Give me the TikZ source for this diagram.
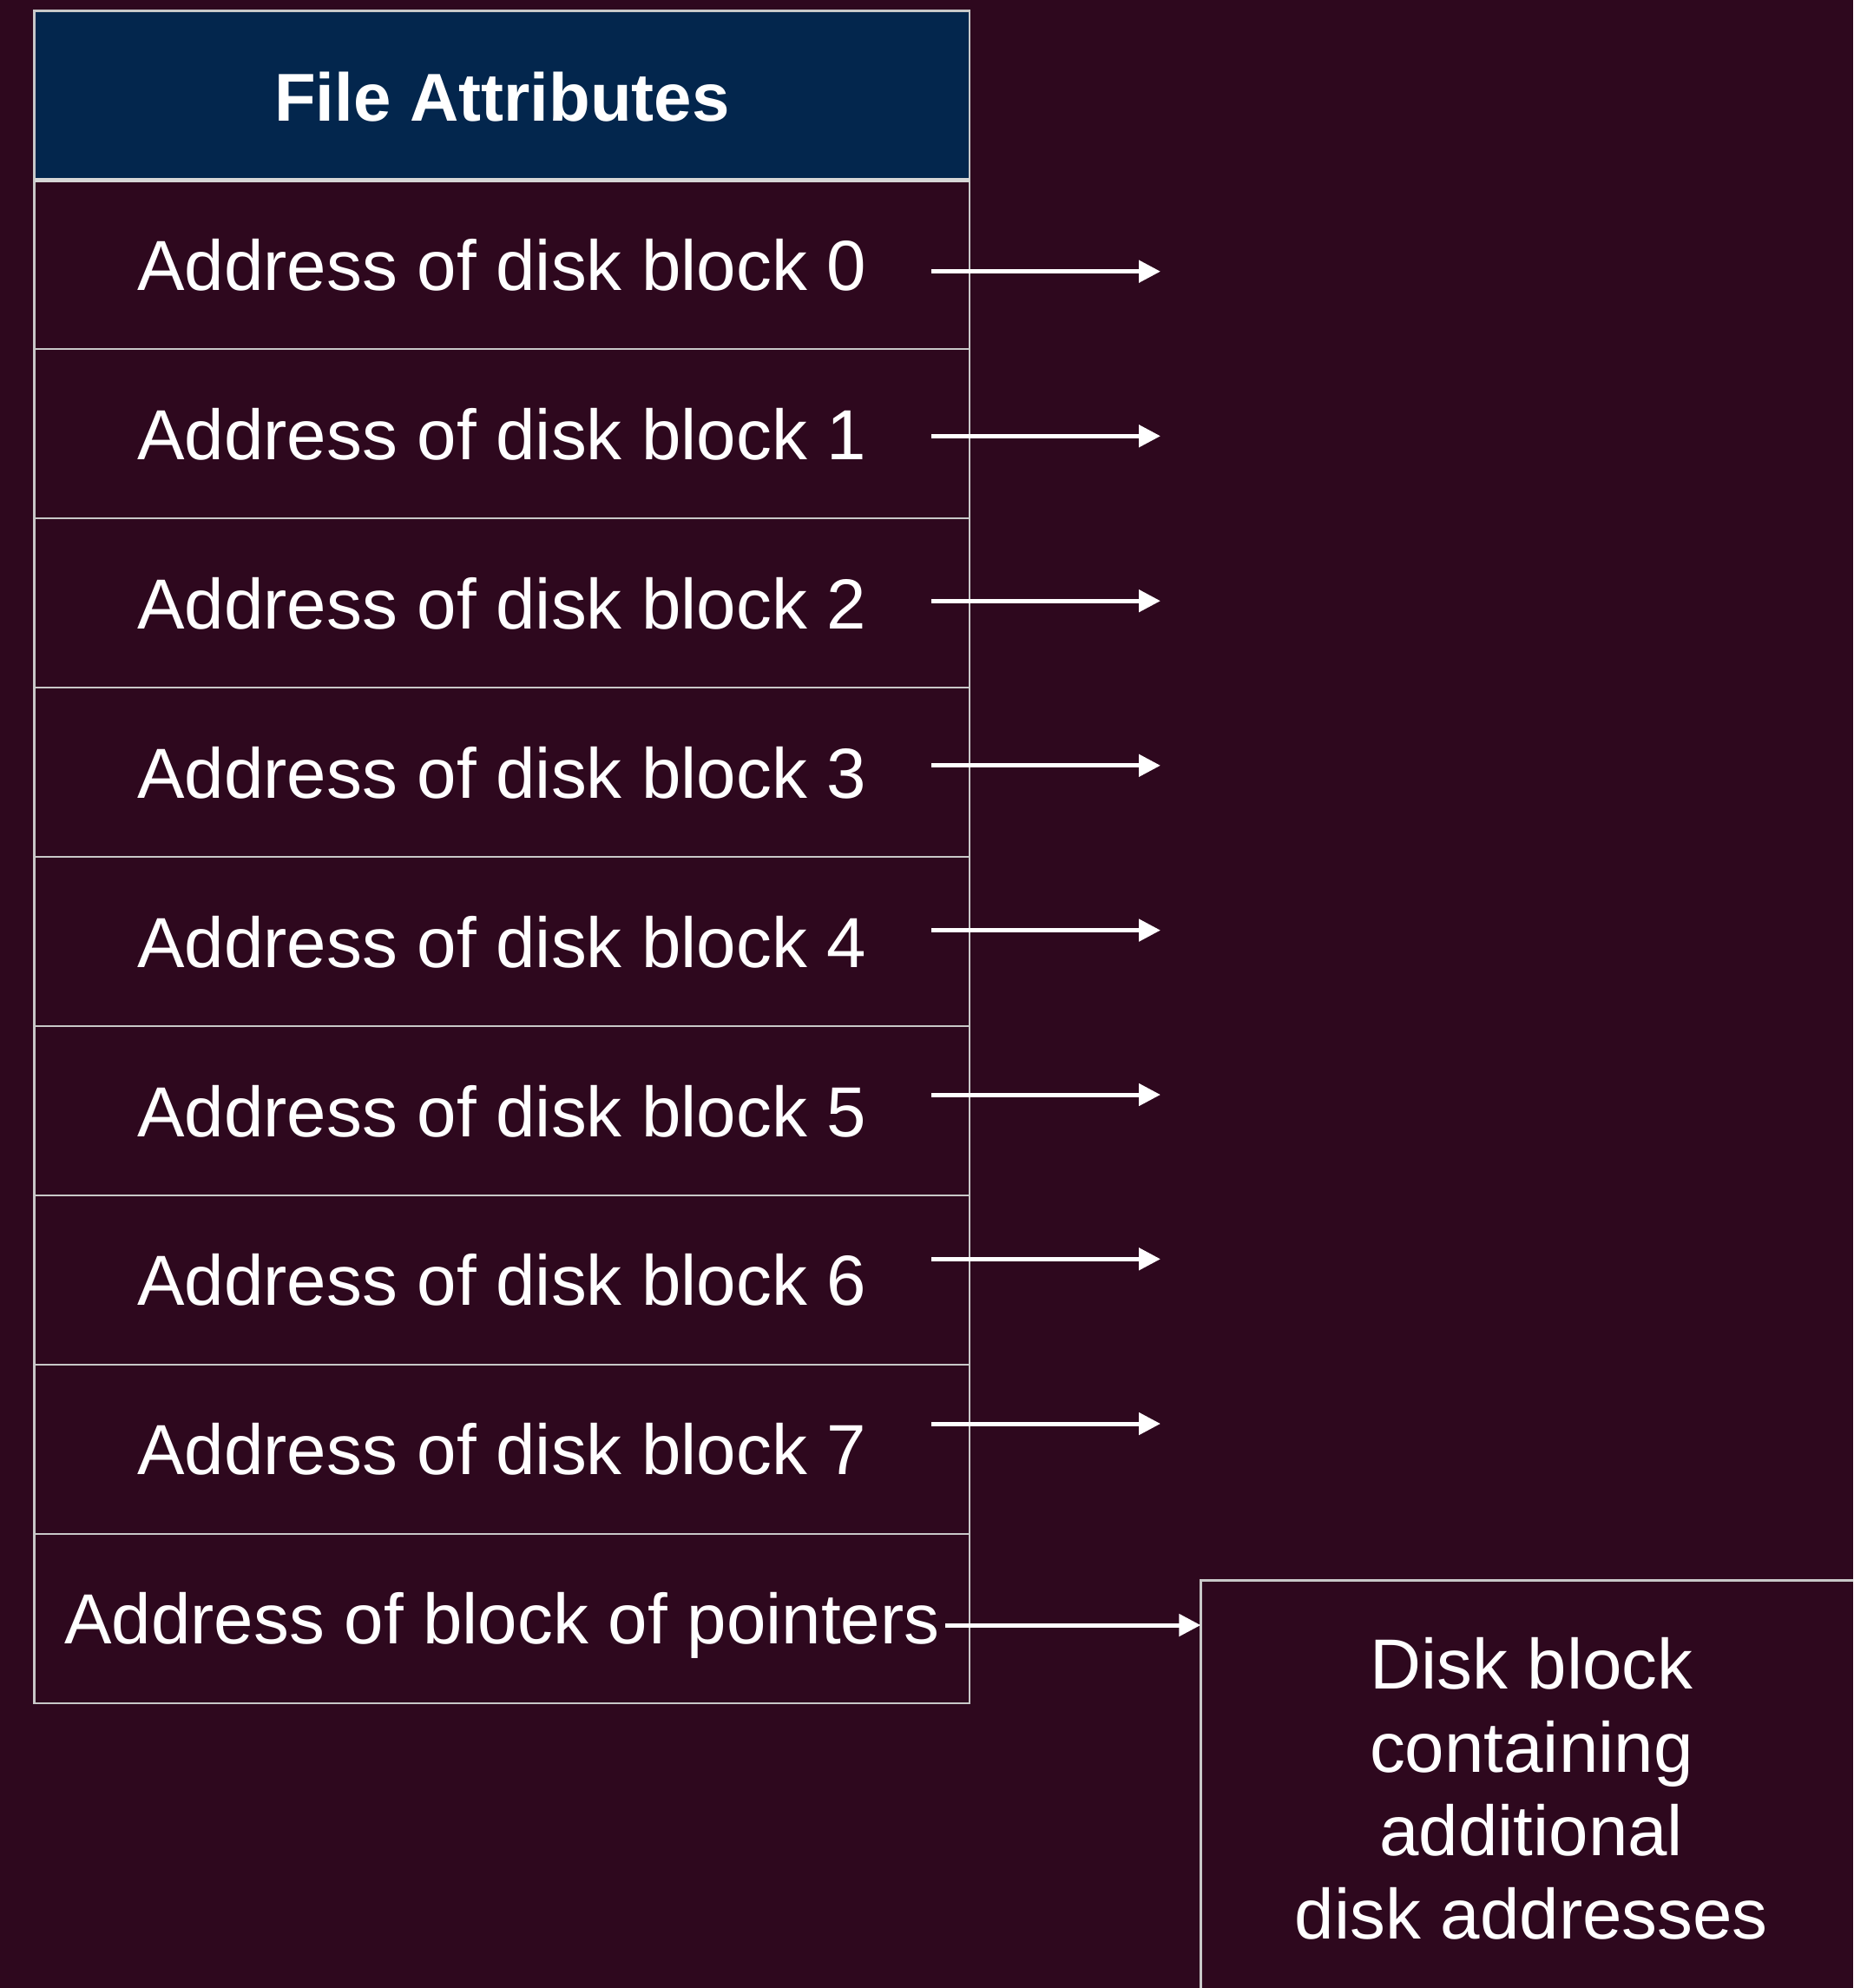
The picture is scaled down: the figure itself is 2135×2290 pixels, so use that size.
\documentclass[tikz,border=0pt]{standalone}
\usepackage{fontspec}
\setmainfont{Liberation Sans}
\usetikzlibrary{arrows.meta}
\definecolor{bgc}{RGB}{46,8,30}
\definecolor{hdc}{RGB}{3,38,77}
\definecolor{lnc}{RGB}{200,200,200}
\definecolor{hlc}{RGB}{214,214,214}
\tikzset{
  cellbox/.style={rectangle, draw=lnc, line width=2.5pt, inner sep=0pt, outer sep=0pt,
    minimum width=1077.3pt, minimum height=194.95pt, text=white,
    font=\fontsize{81.7}{96}\selectfont, text height=59pt, text depth=0pt},
  headbox/.style={cellbox, fill=hdc, font=\bfseries\fontsize{78}{94}\selectfont, text height=60pt},
  diskbox/.style={rectangle, draw=lnc, line width=2.5pt, inner sep=0pt, outer sep=0pt,
    minimum width=762pt, minimum height=479pt, text=white, align=center,
    font=\fontsize{81.7}{96}\selectfont, anchor=north west},
  arr/.style={draw=white, line width=5pt, -{Triangle[length=25pt,width=25pt]}}
}
\begin{document}
\begin{tikzpicture}[x=1pt,y=-1pt]
\useasboundingbox (0,0) rectangle (2135,2290);
\fill[bgc] (0,0) rectangle (2135,2290);
\clip (0,0) rectangle (2135,2290);
% table
\node[headbox] (hdr) at (578.35,109.8) {File Attributes};
\node[cellbox] (r0) at (578.35,304.75) {Address of disk block 0};
\node[cellbox] (r1) at (578.35,499.7) {Address of disk block 1};
\node[cellbox] (r2) at (578.35,694.65) {Address of disk block 2};
\node[cellbox] (r3) at (578.35,889.6) {Address of disk block 3};
\node[cellbox] (r4) at (578.35,1084.55) {Address of disk block 4};
\node[cellbox] (r5) at (578.35,1279.5) {Address of disk block 5};
\node[cellbox] (r6) at (578.35,1474.45) {Address of disk block 6};
\node[cellbox] (r7) at (578.35,1669.4) {Address of disk block 7};
\node[cellbox] (r8) at (578.35,1864.35) {Address of block of pointers};
\draw[hlc, line width=5pt] (hdr.south west) -- (hdr.south east);
% disk block
\node[diskbox] (dblock) at (1383.3,1820.7) {Disk block\\containing\\additional\\disk addresses};
% arrow end points
\foreach \i/\y in {0/312.7,1/502.3,2/692.2,3/881.8,4/1071.6,5/1261,6/1450.3,7/1640}{
  \coordinate (s\i) at (1073,\y);
  \coordinate (e\i) at (1337,\y);
  \draw[arr] (s\i) -- (e\i);
}
\coordinate (s8) at (1089,1872);
\draw[arr] (s8) -- (s8 -| dblock.west);
\end{tikzpicture}
\end{document}
